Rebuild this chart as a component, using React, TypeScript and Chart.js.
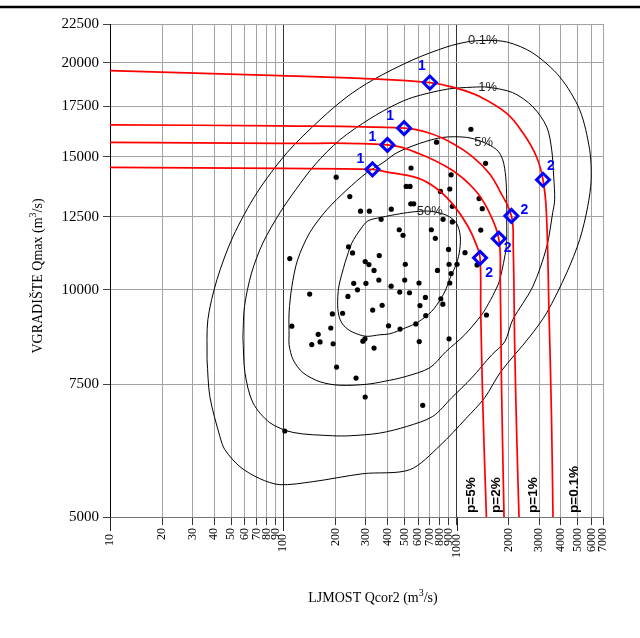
import React, { useEffect, useRef } from 'react';
import { Chart, registerables } from 'chart.js';

Chart.register(...registerables);

// ---------- axis ticks ----------
const xTicks = [10, 20, 30, 40, 50, 60, 70, 80, 90, 100, 200, 300, 400, 500, 600, 700, 800, 900, 1000, 2000, 3000, 4000, 5000, 6000, 7000];
const xMajor = [10, 100, 1000];
const yTicks = [5000, 7500, 10000, 12500, 15000, 17500, 20000, 22500];

// ---------- observed pairs (Qcor2 Ljmost, Qmax Vgradiste) ----------
const observed: [number, number][] = [
  [202, 14100], [242, 13290], [279, 12710], [314, 12710], [420, 12790], [367, 12400], [467, 12010],
  [109, 11000], [238, 11400], [251, 11190], [358, 11100], [297, 10900], [312, 10800], [334, 10610],
  [356, 10300], [255, 10200], [300, 10200], [419, 10110], [268, 10000], [236, 9800], [142, 9870],
  [470, 9930], [328, 9400], [372, 9540], [192, 9290], [220, 9310], [112, 8950], [188, 8900],
  [405, 8960], [472, 8870], [159, 8730], [163, 8530], [146, 8460], [194, 8480], [288, 8550],
  [296, 8610], [334, 8370], [203, 7900], [263, 7640], [297, 7210], [102, 6500],
  [1210, 16320], [766, 15690], [1470, 14710], [546, 14500], [930, 14200], [512, 13710], [539, 13710],
  [914, 13600], [807, 13500], [1349, 13210], [1407, 12810], [544, 13000], [566, 13000], [945, 12900],
  [836, 12400], [946, 12300], [491, 11810], [715, 12010], [754, 11700], [1379, 12000], [899, 11310],
  [1119, 11200], [506, 10810], [905, 10810], [1006, 10810], [1313, 10790], [776, 10610], [930, 10510],
  [502, 10300], [607, 10210], [914, 10210], [535, 9910], [661, 9770], [615, 9530], [811, 9730],
  [833, 9570], [664, 9240], [582, 9010], [609, 8540], [905, 8610], [1488, 9260], [638, 7030],
];

// ---------- joint probability contours ----------
const contour50: [number, number][] = [
  [227, 10860], [249, 11540], [280, 12040], [308, 12340], [365, 12470], [470, 12610], [574, 12690],
  [701, 12710], [878, 12550], [999, 12250], [1050, 11790], [1043, 11300], [1003, 10860], [914, 10340],
  [866, 10000], [811, 9730], [719, 9365], [597, 9057], [503, 8897], [412, 8744], [361, 8718],
  [299, 8678], [249, 8798], [224, 8959], [211, 9182], [206, 9524], [209, 10090], [227, 10860],
];
const contour5: [number, number][] = [
  [108, 8690], [108, 9320], [112, 10090], [121, 10960], [142, 11900], [178, 12760], [233, 13570],
  [303, 14290], [375, 14730], [452, 15190], [613, 15630], [832, 15920], [1145, 15920], [1416, 15700],
  [1706, 15330], [1847, 14870], [1922, 14115], [1948, 13160], [1948, 12380], [1935, 11400],
  [1775, 10310], [1661, 9940], [1493, 9495], [1397, 9266], [1115, 8718], [866, 8276], [701, 7884],
  [503, 7670], [385, 7565], [303, 7496], [212, 7473], [163, 7553], [130, 7764], [114, 8078],
  [108, 8455], [108, 8690],
];
const contour1: [number, number][] = [
  [58.5, 8660], [59.7, 9500], [65.6, 10530], [76.3, 11540], [95.6, 12650], [118, 13570], [152, 14640],
  [212, 15800], [316, 16850], [440, 17580], [559, 17990], [878, 18440], [1240, 18555], [1513, 18555],
  [2109, 18250], [2750, 17490], [3313, 16440], [3540, 15330], [3636, 14115], [3684, 13160],
  [3587, 12650], [3313, 11400], [2750, 10090], [2109, 9126], [1897, 8533], [1596, 8200], [1224, 7646],
  [938, 7195], [729, 6796], [516, 6591], [361, 6459], [242, 6406], [193, 6406], [114, 6471],
  [83.7, 6666], [66.8, 7086], [60.1, 7764], [58.5, 8660],
];
const contour01: [number, number][] = [
  [36.3, 8078], [36.7, 9126], [41.4, 10310], [51.2, 11755], [70.4, 13440], [105, 15190], [163, 16800],
  [233, 18015], [329, 18970], [559, 20170], [878, 20980], [1145, 21300], [1416, 21400], [1948, 21300],
  [2750, 20600], [3937, 19150], [5134, 17320], [5863, 15330], [5981, 13990], [5710, 12880],
  [5134, 11650], [4320, 10530], [3313, 9323], [2643, 8664], [1799, 7787], [1454, 7195], [1130, 6748],
  [800, 6213], [537, 5776], [288, 5706], [148, 5569], [95.6, 5518], [73.3, 5620], [56.2, 5829],
  [46.0, 6140], [43.1, 6389], [37.7, 7217], [36.3, 8078],
];

// ---------- conditional design curves (red) ----------
const red01: [number, number][] = [
  [10, 19520], [95.6, 19220], [280, 19060], [701, 18820], [999, 18500], [1361, 18030], [1940, 17140],
  [2419, 16130], [2889, 15020], [3154, 13990], [3300, 12650], [3416, 9323], [3527, 6873], [3602, 5000],
];
const red1: [number, number][] = [
  [10, 16540], [95.6, 16490], [498, 16375], [701, 16120], [951, 15630], [1240, 15000], [1554, 14240],
  [1775, 13525], [2073, 12530], [2123, 11435], [2166, 8403], [2233, 6194], [2293, 5000],
];
const red2: [number, number][] = [
  [10, 15680], [95.6, 15630], [399, 15560], [600, 15170], [935, 14420], [1273, 13570], [1519, 12760],
  [1752, 11690], [1787, 10310], [1815, 7600], [1879, 5000],
];
const red5: [number, number][] = [
  [10, 14530], [95.6, 14480], [327, 14440], [385, 14340], [600, 14060], [783, 13570], [976, 12890],
  [1165, 12130], [1302, 11470], [1366, 11025], [1379, 9323], [1422, 6873], [1487, 5000],
];

// ---------- design points ----------
const design1: [number, number][] = [[701, 18820], [498, 16375], [399, 15560], [327, 14440]];
const design2: [number, number][] = [[3154, 13990], [2073, 12530], [1752, 11690], [1366, 11025]];
const design1Offsets: [number, number][] = [[-8, -16], [-14, -12], [-15, -8], [-12, -10]];
const design2Offsets: [number, number][] = [[8, -14], [13, -6], [9, 10], [9, 15]];

// ---------- text labels ----------
const contourLabels = [
  { text: '0.1%', x: 1416, y: 21400 },
  { text: '1%', x: 1513, y: 18555 },
  { text: '5%', x: 1435, y: 15680 },
  { text: '50%', x: 701, y: 12710 },
];
const pLabels = [
  { text: 'p=5%', x: 1219 },
  { text: 'p=2%', x: 1699 },
  { text: 'p=1%', x: 2754 },
  { text: 'p=0.1%', x: 4808 },
];

const SERIF = '"Liberation Serif", "Times New Roman", serif';
const SANS = '"Liberation Sans", Arial, sans-serif';

const toXY = (arr: [number, number][]) => arr.map(([x, y]) => ({ x, y }));

function drawSupText(ctx: CanvasRenderingContext2D, a: string, sup: string, b: string, size: number) {
  const main = `${size}px ${SERIF}`;
  const small = `${Math.round(size * 0.72)}px ${SERIF}`;
  ctx.font = main;
  const wa = ctx.measureText(a).width;
  const wb = ctx.measureText(b).width;
  ctx.font = small;
  const ws = ctx.measureText(sup).width;
  const total = wa + ws + wb;
  let x = -total / 2;
  ctx.textAlign = 'left';
  ctx.textBaseline = 'middle';
  ctx.font = main;
  ctx.fillText(a, x, 0);
  x += wa;
  ctx.font = small;
  ctx.fillText(sup, x, -size * 0.35);
  x += ws;
  ctx.font = main;
  ctx.fillText(b, x, 0);
}

const decorPlugin = {
  id: 'decor',
  afterDraw(chart: any) {
    const ctx: CanvasRenderingContext2D = chart.ctx;
    const xs = chart.scales.x;
    const ys = chart.scales.y;
    const area = chart.chartArea;
    ctx.save();

    // top rule
    ctx.strokeStyle = '#000';
    ctx.lineWidth = 2.5;
    ctx.beginPath();
    ctx.moveTo(0, 7);
    ctx.lineTo(chart.width, 7);
    ctx.stroke();

    // longer major ticks
    ctx.lineWidth = 1;
    ctx.strokeStyle = '#222';
    xMajor.forEach((v) => {
      const px = Math.round(xs.getPixelForValue(v)) + 0.5;
      ctx.beginPath();
      ctx.moveTo(px, area.bottom);
      ctx.lineTo(px, area.bottom + 14);
      ctx.stroke();
    });

    // contour labels
    ctx.font = `13px ${SANS}`;
    ctx.fillStyle = '#222';
    ctx.textAlign = 'center';
    ctx.textBaseline = 'middle';
    contourLabels.forEach((l) => {
      ctx.fillText(l.text, xs.getPixelForValue(l.x), ys.getPixelForValue(l.y));
    });

    // design point numbers
    ctx.font = `bold 14px ${SANS}`;
    ctx.fillStyle = '#0000ff';
    design1.forEach(([x, y], i) => {
      ctx.fillText('1', xs.getPixelForValue(x) + design1Offsets[i][0], ys.getPixelForValue(y) + design1Offsets[i][1]);
    });
    design2.forEach(([x, y], i) => {
      ctx.fillText('2', xs.getPixelForValue(x) + design2Offsets[i][0], ys.getPixelForValue(y) + design2Offsets[i][1]);
    });

    // p= labels (vertical)
    ctx.font = `bold 13.5px ${SANS}`;
    ctx.fillStyle = '#000';
    ctx.textAlign = 'left';
    ctx.textBaseline = 'middle';
    pLabels.forEach((l) => {
      ctx.save();
      ctx.translate(xs.getPixelForValue(l.x), area.bottom - 4);
      ctx.rotate(-Math.PI / 2);
      ctx.fillText(l.text, 0, 0);
      ctx.restore();
    });

    // axis titles
    ctx.fillStyle = '#000';
    ctx.save();
    ctx.translate(373, 598);
    drawSupText(ctx, 'LJMOST Qcor2 (m', '3', '/s)', 14);
    ctx.restore();
    ctx.save();
    ctx.translate(38, 276);
    ctx.rotate(-Math.PI / 2);
    drawSupText(ctx, 'VGRADIŠTE Qmax (m', '3', '/s)', 14);
    ctx.restore();

    ctx.restore();
  },
};

export default function App() {
  const ref = useRef<HTMLCanvasElement>(null);

  useEffect(() => {
    if (!ref.current) return;
    const lineDs = (data: [number, number][], color: string, width: number, tension: number) => ({
      data: toXY(data),
      showLine: true,
      borderColor: color,
      borderWidth: width,
      pointRadius: 0,
      pointHoverRadius: 0,
      tension,
      fill: false,
    });
    const diamondDs = (data: [number, number][]) => ({
      data: toXY(data),
      showLine: false,
      pointStyle: 'rectRot',
      pointRadius: 6.5,
      pointHoverRadius: 6.5,
      borderColor: '#0000ff',
      backgroundColor: 'rgba(0,0,0,0)',
      borderWidth: 3,
    });

    const chart = new Chart(ref.current, {
      type: 'scatter',
      data: {
        datasets: [
          diamondDs(design1) as any,
          diamondDs(design2) as any,
          lineDs(red01, '#ff0000', 1.7, 0.4),
          lineDs(red1, '#ff0000', 1.7, 0.4),
          lineDs(red2, '#ff0000', 1.7, 0.4),
          lineDs(red5, '#ff0000', 1.7, 0.4),
          {
            data: toXY(observed),
            showLine: false,
            pointRadius: 2.6,
            pointHoverRadius: 2.6,
            backgroundColor: '#000',
            borderWidth: 0,
          },
          lineDs(contour50, '#000', 1, 0.3),
          lineDs(contour5, '#000', 1, 0.3),
          lineDs(contour1, '#000', 1, 0.3),
          lineDs(contour01, '#000', 1, 0.3),
        ],
      },
      options: {
        responsive: false,
        animation: false,
        devicePixelRatio: 1,
        layout: { padding: { left: 0, right: 37, top: 24, bottom: 0 } },
        plugins: {
          legend: { display: false },
          tooltip: { enabled: false },
        },
        events: [],
        scales: {
          x: {
            type: 'logarithmic',
            min: 10,
            max: 7000,
            afterBuildTicks: (scale: any) => {
              scale.ticks = xTicks.map((v) => ({ value: v }));
            },
            afterFit: (scale: any) => {
              scale.height = 121;
            },
            ticks: {
              autoSkip: false,
              minRotation: 90,
              maxRotation: 90,
              padding: 3,
              color: '#000',
              font: { family: SERIF, size: 12 },
              callback: (v: any) => (xMajor.includes(Number(v)) ? `${v}  ` : `${v}`),
            },
            grid: {
              color: (c: any) => (c.tick && xMajor.includes(c.tick.value) ? '#333' : '#a3a3a3'),
              lineWidth: 1,
              tickLength: 8,
              tickColor: '#333',
            },
            border: { color: '#777', width: 1 },
          },
          y: {
            type: 'logarithmic',
            min: 5000,
            max: 22500,
            afterBuildTicks: (scale: any) => {
              scale.ticks = yTicks.map((v) => ({ value: v }));
            },
            afterFit: (scale: any) => {
              scale.width = 110;
            },
            ticks: {
              autoSkip: false,
              padding: 4,
              color: '#000',
              font: { family: SERIF, size: 15 },
              callback: (v: any) => `${v}`,
            },
            grid: {
              color: '#a3a3a3',
              lineWidth: 1,
              tickLength: 7,
              tickColor: '#444',
            },
            border: { color: '#000', width: 1 },
          },
        },
      } as any,
      plugins: [decorPlugin],
    });
    return () => chart.destroy();
  }, []);

  return (
    <div style={{ position: 'fixed', left: 0, top: 0, width: 640, height: 638, background: '#fff' }}>
      <canvas ref={ref} width={640} height={638} style={{ display: 'block', width: 640, height: 638 }} />
    </div>
  );
}
